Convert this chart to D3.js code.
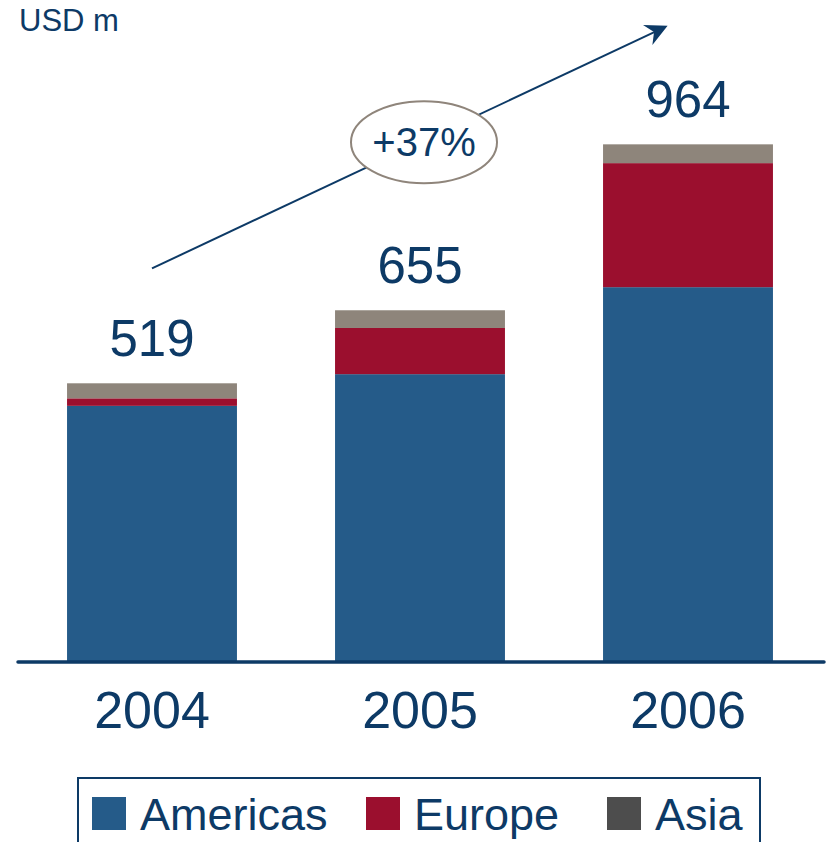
<!DOCTYPE html>
<html>
<head>
<meta charset="utf-8">
<script src="https://cdn.jsdelivr.net/npm/d3@7"></script>
<style>
  body { margin: 0; background: #fff; }
  text { font-family: "Liberation Sans", Arial, sans-serif; }
</style>
</head>
<body>
<div id="chart"></div>
<script>
// data (USD m)
const years = ["2004", "2005", "2006"];
const americas = [477, 536, 698];
const europe = [14, 86, 231];
const asia = [28, 33, 35];
const seriesNames = ["Americas", "Europe", "Asia"];
const barColors = ["#255b89", "#9b0f2e", "#8e857b"];
const legendColors = ["#255b89", "#9b0f2e", "#4d4d4d"];
const growthLabel = "+37%";
const unitLabel = "USD m";

const navy = "#0d3a66";
const width = 827, height = 842;
const baseY = 662;

const svg = d3.select("#chart").append("svg")
    .attr("width", width)
    .attr("height", height);

const x = d3.scaleBand()
    .domain(years)
    .range([18, 822])
    .paddingInner(0.366)
    .paddingOuter(0.183);

const y = d3.scaleLinear()
    .domain([0, 1000])
    .range([baseY, baseY - 537]);

// build rows for the stack
const rows = years.map((yr, i) => ({ year: yr, Americas: americas[i], Europe: europe[i], Asia: asia[i] }));
const stacked = d3.stack().keys(seriesNames)(rows);

svg.append("g")
  .selectAll("g")
  .data(stacked)
  .enter().append("g")
  .attr("fill", (d, i) => barColors[i])
  .selectAll("rect")
  .data(d => d)
  .enter().append("rect")
  .attr("x", d => x(d.data.year))
  .attr("y", d => y(d[1]))
  .attr("width", x.bandwidth())
  .attr("height", d => y(d[0]) - y(d[1]));

// totals above bars
const totals = rows.map(r => r.Americas + r.Europe + r.Asia);
svg.append("g")
  .selectAll("text")
  .data(rows)
  .enter().append("text")
  .attr("x", d => x(d.year) + x.bandwidth() / 2)
  .attr("y", (d, i) => y(totals[i]) - 27)
  .attr("text-anchor", "middle")
  .attr("font-size", 51)
  .attr("fill", navy)
  .text((d, i) => totals[i]);

// baseline + year labels
const xAxis = svg.append("g")
    .attr("transform", `translate(0, ${baseY})`)
    .call(d3.axisBottom(x).tickSize(0).tickPadding(0));
xAxis.select(".domain")
    .attr("d", "M18,0H824")
    .attr("stroke", navy)
    .attr("stroke-width", 3.5)
    .attr("stroke-linecap", "round");
xAxis.selectAll(".tick text")
    .attr("y", 66)
    .attr("dy", 0)
    .attr("font-size", 52)
    .attr("font-family", "'Liberation Sans', Arial, sans-serif")
    .attr("fill", navy);

// unit label
svg.append("text")
  .attr("x", 19)
  .attr("y", 31)
  .attr("font-size", 31)
  .attr("fill", navy)
  .text(unitLabel);

// growth arrow
const ax0 = x("2004") + x.bandwidth() / 2, ay0 = y(733);
const ax1 = x("2006") + x.bandwidth() * 0.38, ay1 = y(1185);
svg.append("line")
  .attr("x1", ax0).attr("y1", ay0)
  .attr("x2", ax1 - 8).attr("y2", ay1 + 4)
  .attr("stroke", navy)
  .attr("stroke-width", 2);
// arrow head drawn as a path along the line
const ang = Math.atan2(ay1 - ay0, ax1 - ax0);
svg.append("path")
  .attr("d", "M0,0 L-22,-11 L-15,0 L-22,11 Z")
  .attr("fill", navy)
  .attr("transform", `translate(${ax1},${ay1}) rotate(${ang * 180 / Math.PI})`);

// growth ellipse, sitting on the arrow
const ex = x("2005") + x.bandwidth() / 2 + 4, ey = y(968);
svg.append("ellipse")
  .attr("cx", ex).attr("cy", ey)
  .attr("rx", 73).attr("ry", 41)
  .attr("fill", "#fff")
  .attr("stroke", "#8f857b")
  .attr("stroke-width", 2);
svg.append("text")
  .attr("x", ex)
  .attr("y", ey + 14)
  .attr("text-anchor", "middle")
  .attr("font-size", 40)
  .attr("fill", navy)
  .text(growthLabel);

// legend
const legend = svg.append("g").attr("transform", "translate(78, 778)");
legend.append("rect")
  .attr("x", 0).attr("y", 0)
  .attr("width", 682).attr("height", 80)
  .attr("fill", "none")
  .attr("stroke", navy)
  .attr("stroke-width", 2);
const legendX = [14, 288, 529];
const items = legend.selectAll("g.item")
  .data(seriesNames)
  .enter().append("g")
  .attr("class", "item")
  .attr("transform", (d, i) => `translate(${legendX[i]}, 0)`);
items.append("rect")
  .attr("x", 0).attr("y", 19)
  .attr("width", 34).attr("height", 33)
  .attr("fill", (d, i) => legendColors[i]);
items.append("text")
  .attr("x", 48)
  .attr("y", 52)
  .attr("font-size", 45)
  .attr("fill", navy)
  .text(d => d);
</script>
</body>
</html>
